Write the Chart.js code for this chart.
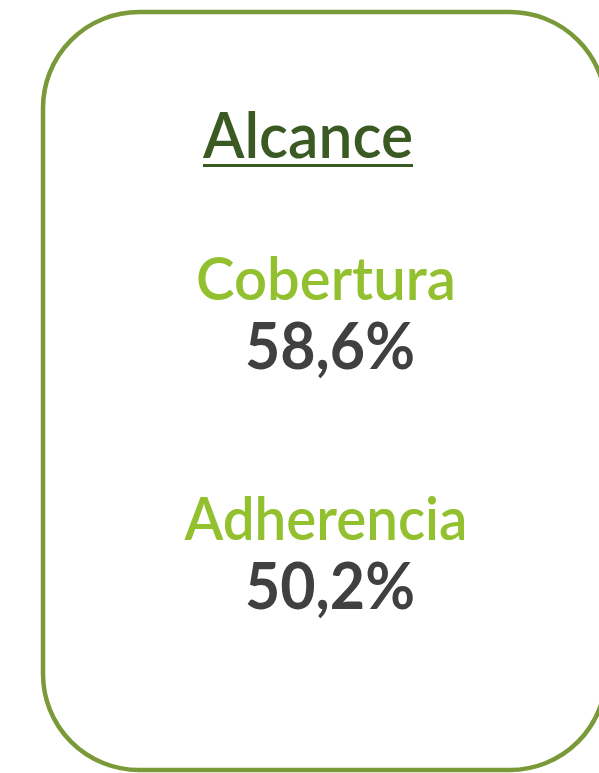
<!DOCTYPE html>
<html>
<head>
<meta charset="utf-8">
<script src="https://cdn.jsdelivr.net/npm/chart.js@4"></script>
<style>
  html, body { margin: 0; padding: 0; background: #fff; }
  #wrap { width: 599px; height: 773px; }
</style>
</head>
<body>
<div id="wrap"><canvas id="myChart" width="599" height="773"></canvas></div>
<script>
const title = "Alcance";
const categories = ["Cobertura", "Adherencia"];
const values = [58.6, 50.2];

const fmt = (v) => v.toFixed(1).replace(".", ",") + "%";

// draws the rounded frame, the title and the label/value pairs
const cardPlugin = {
  id: "card",
  afterDraw(chart) {
    const ctx = chart.ctx;
    const y = chart.scales.y;
    ctx.save();

    ctx.strokeStyle = "#7a9a3a";
    ctx.lineWidth = 4.5;
    ctx.beginPath();
    ctx.roundRect(43, 12, 563, 758, 96);
    ctx.stroke();

    ctx.textAlign = "center";
    ctx.textBaseline = "alphabetic";

    ctx.fillStyle = "#3b5a23";
    ctx.font = "600 63px Lato";
    ctx.fillText(title, 308, 158, 210);
    ctx.fillRect(203, 164, 210, 3);

    categories.forEach((c, i) => {
      const py = y.getPixelForValue(i);
      ctx.fillStyle = "#93c02e";
      ctx.font = "600 59px Lato";
      ctx.fillText(c, 326, py, i === 0 ? 260 : 283);
      ctx.fillStyle = "#404040";
      ctx.font = "700 65px Lato";
      ctx.fillText(fmt(values[i]), 330, py + 69, 170);
    });
    ctx.restore();
  }
};

const ctx = document.getElementById("myChart");
const myChart = new Chart(ctx, {
  type: "bar",
  data: {
    labels: categories,
    datasets: [{ data: values.map(() => null) }]
  },
  options: {
    responsive: false,
    animation: false,
    indexAxis: "y",
    layout: { padding: { top: 300, bottom: 233, left: 0, right: 0 } },
    plugins: { legend: { display: false }, tooltip: { enabled: false } },
    scales: {
      x: { display: false, min: 0, max: 100 },
      y: { display: false, offset: false }
    }
  },
  plugins: [cardPlugin]
});
</script>
</body>
</html>
